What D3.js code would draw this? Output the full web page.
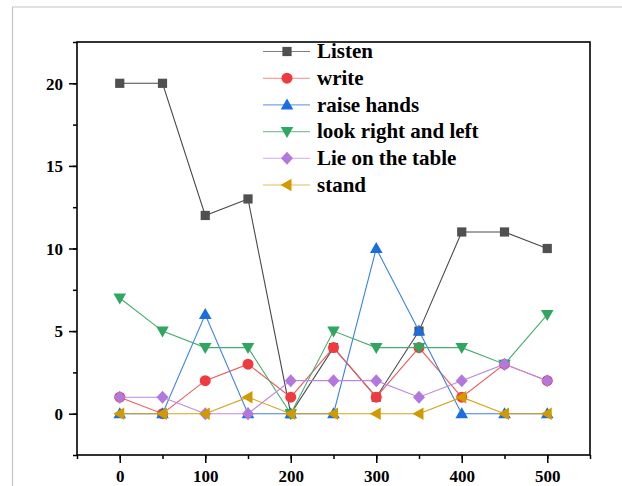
<!DOCTYPE html>
<html><head><meta charset="utf-8">
<script src="https://cdn.jsdelivr.net/npm/d3@7"></script>
<style>html,body{margin:0;padding:0;background:#fff;}svg{display:block;}</style>
</head><body>
<script>
const xValues = [0, 50, 100, 150, 200, 250, 300, 350, 400, 450, 500];
const listen = [20, 20, 12, 13, 0, 4, 1, 5, 11, 11, 10];
const write = [1, 0, 2, 3, 1, 4, 1, 4, 1, 3, 2];
const raiseHands = [0, 0, 6, 0, 0, 0, 10, 5, 0, 0, 0];
const lookRightLeft = [7, 5, 4, 4, 0, 5, 4, 4, 4, 3, 6];
const lieOnTable = [1, 1, 0, 0, 2, 2, 2, 1, 2, 3, 2];
const stand = [0, 0, 0, 1, 0, 0, 0, 0, 1, 0, 0];
const seriesNames = ["Listen", "write", "raise hands", "look right and left", "Lie on the table", "stand"];
const xTicks = [0, 100, 200, 300, 400, 500];
const yTicks = [0, 5, 10, 15, 20];

const seriesData = [listen, write, raiseHands, lookRightLeft, lieOnTable, stand];
const colors = ["#505050", "#ef3b3f", "#1a6ee0", "#2fa760", "#b378de", "#d19a00"];
const lineColors = ["#4a4a4a", "#f05a5c", "#3a82e8", "#45ae6c", "#bd88e2", "#d6a21a"];
const shapes = ["square", "circle", "up", "down", "diamond", "left"];

const W = 622, H = 486;
const svg = d3.select("body").append("svg").attr("width", W).attr("height", H);
svg.append("rect").attr("width", W).attr("height", H).attr("fill", "#fff");
// outer frame
svg.append("path").attr("d", `M12.5,${H+2} L12.5,7 L${W+2},7`).attr("fill", "none").attr("stroke", "#c4c4c4").attr("stroke-width", 1.2);

const L = 77, R = 590, T = 42, B = 455;
const x = d3.scaleLinear().domain([-50, 550]).range([L, R]);
const y = d3.scaleLinear().domain([-2.5, 22.5]).range([B, T]);

const font = "'Liberation Serif','Times New Roman',serif";

// x axis
const xAxis = svg.append("g").attr("transform", `translate(0,${B})`);
xAxis.call(d3.axisBottom(x).tickValues(d3.range(-50, 551, 50)).tickSize(4).tickFormat(""));
xAxis.append("g").call(d3.axisBottom(x).tickValues(xTicks).tickSize(8).tickFormat(d3.format("d")));
xAxis.selectAll("path.domain").remove();
xAxis.selectAll("line").attr("stroke", "#000").attr("stroke-width", 1.5);
xAxis.selectAll("text").attr("font-family", font).attr("font-weight", "bold").attr("font-size", 17).attr("fill", "#000").attr("dy", "0").attr("y", 26.5);

// y axis
const yAxis = svg.append("g").attr("transform", `translate(${L},0)`);
yAxis.call(d3.axisLeft(y).tickValues(d3.range(-2.5, 22.6, 2.5)).tickSize(4).tickFormat(""));
yAxis.append("g").call(d3.axisLeft(y).tickValues(yTicks).tickSize(8).tickFormat(d3.format("d")));
yAxis.selectAll("path.domain").remove();
yAxis.selectAll("line").attr("stroke", "#000").attr("stroke-width", 1.5);
yAxis.selectAll("text").attr("font-family", font).attr("font-weight", "bold").attr("font-size", 17).attr("fill", "#000").attr("x", -14).attr("dy", "0.34em");

// box
svg.append("rect").attr("x", L).attr("y", T).attr("width", R - L).attr("height", B - T)
  .attr("fill", "none").attr("stroke", "#000").attr("stroke-width", 1.6);

function symbolFor(shape) {
  if (shape === "square") return d3.symbol().type(d3.symbolSquare).size(85)();
  if (shape === "circle") return d3.symbol().type(d3.symbolCircle).size(95)();
  if (shape === "diamond") return "M0,-6.5L6,0L0,6.5L-6,0Z";
  if (shape === "up") return "M0,-6.5L6.3,4.5L-6.3,4.5Z";
  if (shape === "down") return "M0,6.5L6.3,-4.5L-6.3,-4.5Z";
  if (shape === "left") return "M-6.5,0L4.5,-6.3L4.5,6.3Z";
}

const line = d3.line().x(d => x(d[0])).y(d => y(d[1]));
const plot = svg.append("g");
seriesData.forEach((vals, i) => {
  const pts = xValues.map((xv, j) => [xv, vals[j]]);
  const g = plot.append("g");
  g.append("path").datum(pts).attr("d", line).attr("fill", "none")
    .attr("stroke", lineColors[i]).attr("stroke-width", 1.1);
  g.selectAll("path.m").data(pts).enter().append("path").attr("class", "m")
    .attr("transform", d => `translate(${x(d[0])},${y(d[1])})`)
    .attr("d", symbolFor(shapes[i])).attr("fill", colors[i]);
});

// legend
const lg = svg.append("g");
seriesNames.forEach((name, i) => {
  const yy = 51.5 + i * 26.7;
  lg.append("line").attr("x1", 263).attr("x2", 310).attr("y1", yy).attr("y2", yy)
    .attr("stroke", lineColors[i]).attr("stroke-width", 1.1).attr("opacity", 0.7);
  lg.append("path").attr("transform", `translate(287,${yy})`).attr("d", symbolFor(shapes[i])).attr("fill", colors[i]);
  lg.append("text").attr("x", 317).attr("y", yy).attr("dy", "0.32em")
    .attr("font-family", font).attr("font-weight", "bold").attr("font-size", 21).attr("fill", "#000").text(name);
});
</script>
</body></html>
